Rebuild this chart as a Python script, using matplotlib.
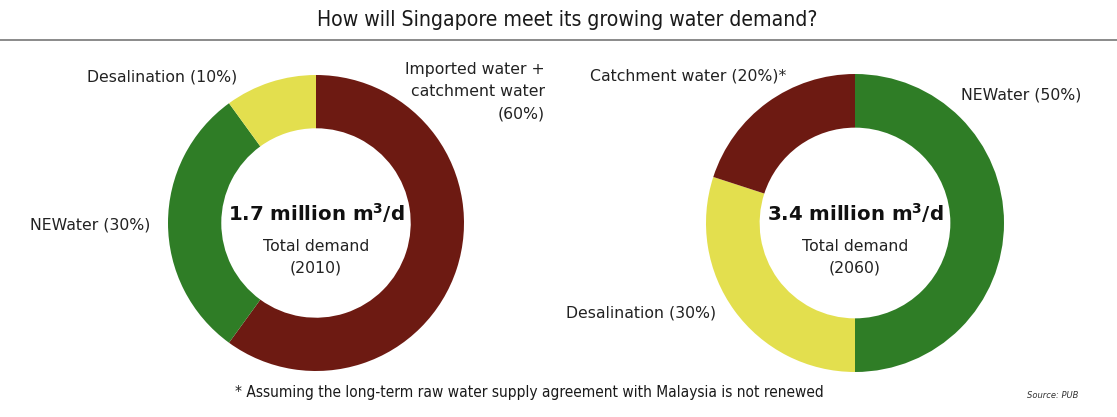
import matplotlib
matplotlib.use("Agg")
import matplotlib.pyplot as plt
from matplotlib.lines import Line2D

W, H = 1117, 417

# Water supply mix
labels_2010 = ["Imported water +\ncatchment water\n(60%)", "NEWater (30%)", "Desalination (10%)"]
shares_2010 = [60, 30, 10]
colors_2010 = ["#6d1a12", "#2f7d26", "#e3df4e"]

labels_2060 = ["NEWater (50%)", "Desalination (30%)", "Catchment water (20%)*"]
shares_2060 = [50, 30, 20]
colors_2060 = ["#2f7d26", "#e3df4e", "#6d1a12"]

totals = ["1.7", "3.4"]
years = ["2010", "2060"]

fig = plt.figure(figsize=(W / 100, H / 100), dpi=100)
fig.patch.set_facecolor("white")


def fx(px):
    return px / W


def fy(py):
    return 1 - py / H


sans = ["DejaVu Sans"]

# Title and rule
fig.text(fx(567), fy(20), "How will Singapore meet its growing water demand?",
         ha="center", va="center", fontsize=15.2, family=sans, color="#1a1a1a",
         fontstretch="condensed", fontweight="medium")
fig.add_artist(Line2D([0, 1], [fy(40), fy(40)], transform=fig.transFigure,
                      color="#777777", lw=1.2))


def donut(cx, cy, r, shares, colors):
    ax = fig.add_axes([fx(cx - r), fy(cy + r), (2 * r) / W, (2 * r) / H])
    ax.pie(shares, colors=colors, startangle=90, counterclock=False, radius=1,
           wedgeprops=dict(width=0.36, edgecolor="none"))
    ax.set_xlim(-1, 1)
    ax.set_ylim(-1, 1)
    ax.set_aspect("equal")
    ax.axis("off")
    return ax


donut(316, 223, 148, shares_2010, colors_2010)
donut(855, 223, 149, shares_2060, colors_2060)

lab = dict(fontsize=11.3, color="#222222", va="center")

# 2010 labels
fig.text(fx(545), fy(92), labels_2010[0], ha="right", multialignment="right",
         linespacing=1.6, **lab)
fig.text(fx(90), fy(225), labels_2010[1], ha="center", **lab)
fig.text(fx(162), fy(77), labels_2010[2], ha="center", **lab)

# 2060 labels
fig.text(fx(1021), fy(95), labels_2060[0], ha="center", **lab)
fig.text(fx(641), fy(313), labels_2060[1], ha="center", **lab)
fig.text(fx(688), fy(76), labels_2060[2], ha="center", **lab)

# Centre captions
for cx, total, year in [(316, totals[0], years[0]), (855, totals[1], years[1])]:
    fig.text(fx(cx), fy(213), total + r" million m$^{\mathbf{3}}$/d", ha="center",
             va="center", fontsize=14.2, fontweight="bold", color="#111111")
    fig.text(fx(cx), fy(257), "Total demand\n(" + year + ")", ha="center",
             va="center", fontsize=11.3, color="#222222", linespacing=1.55)

# Footnote and source
fig.text(fx(529), fy(393),
         "* Assuming the long-term raw water supply agreement with Malaysia is not renewed",
         ha="center", va="center", fontsize=11.1, family=sans, color="#1a1a1a",
         fontstretch="condensed")
fig.text(fx(1053), fy(395), "Source: PUB", ha="center", va="center",
         fontsize=6, style="italic", family=sans, color="#333333")

fig.savefig("out.png", dpi=100, facecolor="white")
